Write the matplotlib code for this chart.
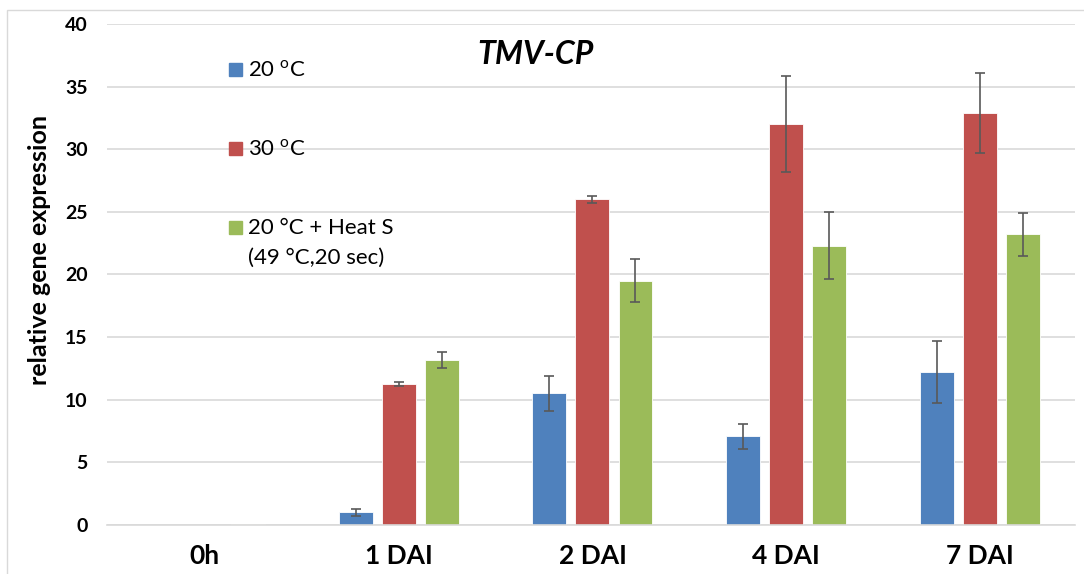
import matplotlib.pyplot as plt
import numpy as np

plt.rcParams['font.family'] = ['Lato', 'DejaVu Sans']
plt.rcParams['mathtext.fontset'] = 'custom'
plt.rcParams['mathtext.rm'] = 'Lato'

# datos
categorias = ['0h', '1 DAI', '2 DAI', '4 DAI', '7 DAI']
series = ['20 $^{\\mathrm{o}}$C', '30 $^{\\mathrm{o}}$C', '20 °C + Heat S\n(49 °C,20 sec)']
valores_20 = [0.0, 1.0, 10.5, 7.1, 12.2]
valores_30 = [0.0, 11.25, 26.0, 32.0, 32.9]
valores_heat = [0.05, 13.2, 19.5, 22.3, 23.2]
error_20 = [0.0, 0.25, 1.4, 1.0, 2.5]
error_30 = [0.0, 0.15, 0.3, 3.85, 3.2]
error_heat = [0.0, 0.65, 1.7, 2.7, 1.7]

colores = ['#4F81BD', '#C0504D', '#9BBB59']

fig = plt.figure(figsize=(10.84, 5.74), dpi=100)
ax = fig.add_axes([0.0987, 0.0854, 0.893, 0.8728])

x = np.arange(len(categorias))
ancho = 0.175
paso = 0.222
datos = [(valores_20, error_20), (valores_30, error_30), (valores_heat, error_heat)]
for i, (vals, errs) in enumerate(datos):
    pos = x + (i - 1) * paso
    ax.bar(pos, vals, ancho, color=colores[i], edgecolor='white', linewidth=0.6, zorder=2)
    ax.errorbar(pos[1:], vals[1:], yerr=errs[1:], fmt='none', ecolor='#595959',
                elinewidth=1.2, capsize=3.5, capthick=1.2, zorder=3)

ax.set_xlim(-0.505, 4.49)
ax.set_ylim(0, 40)
ax.set_yticks(range(0, 41, 5))
ax.set_xticks(x)
ax.set_xticklabels(categorias, fontsize=19, fontweight='bold')
for t in ax.get_yticklabels():
    t.set_fontsize(14)
    t.set_fontweight('bold')
ax.tick_params(axis='both', length=0)
ax.tick_params(axis='y', pad=14)
ax.tick_params(axis='x', pad=14)
ax.grid(axis='y', color='#D9D9D9', linewidth=1.2, zorder=0)
ax.set_axisbelow(True)
for lado in ['left', 'right', 'top']:
    ax.spines[lado].set_visible(False)
ax.spines['bottom'].set_color('#D9D9D9')
ax.spines['bottom'].set_linewidth(1.2)

fig.text(40 / 1084, 1 - 250 / 574, 'relative gene expression', rotation=90,
         fontsize=18, fontweight='bold', ha='center', va='center')
fig.text(535 / 1084, 1 - 55 / 574, 'TMV-CP', fontsize=23, fontweight='bold',
         style='italic', ha='center', va='center')

# leyenda manual
ys = [70, 149, 228]
for i, etiqueta in enumerate(series):
    fig.patches.append(plt.Rectangle((229 / 1084, 1 - (ys[i] + 6) / 574), 13 / 1084, 13 / 574,
                                     transform=fig.transFigure, color=colores[i]))
    fig.text(248 / 1084, 1 - (ys[i] - 10) / 574, etiqueta, fontsize=16,
             ha='left', va='top', linespacing=1.6)

# marco exterior
fig.patches.append(plt.Rectangle((7 / 1084, -0.1), 1.2, 1 - 10 / 574 + 0.1,
                                 transform=fig.transFigure, fill=False,
                                 edgecolor='#D9D9D9', linewidth=1))

fig.savefig('out.png', dpi=100)
